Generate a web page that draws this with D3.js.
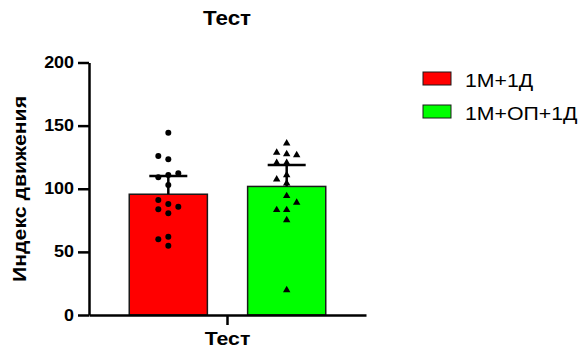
<!DOCTYPE html>
<html>
<head>
<meta charset="utf-8">
<script src="https://cdn.jsdelivr.net/npm/d3@7"></script>
<style>
  body { margin: 0; background: #fff; }
  svg { display: block; font-family: "Liberation Sans", Arial, sans-serif; }
</style>
</head>
<body>
<svg width="581" height="351"></svg>
<script>
// data
var groups = ["Тест"];
var series = ["1М+1Д", "1М+ОП+1Д"];
var colors = ["#ff0000", "#00ff00"];
var redValues = [144.4, 125.9, 123.3, 109.1, 110.9, 112.2, 103, 91.1, 87.9, 85.8, 83.7, 80.6, 62, 60, 54.9];
var greenValues = [136, 126.7, 127.5, 128.6, 120.6, 120.6, 110.9, 107.5, 104.3, 94.3, 89, 83.2, 83.2, 75.2, 19.8];
var errUp = [14.5, 17];
var yTicks = [0, 50, 100, 150, 200];

var svg = d3.select("svg"),
    S = 1.12; // text in the picture is a bit wider than Arial

var y = d3.scaleLinear().domain([0, 200]).range([315, 62.5]);
var x0 = d3.scaleBand().domain(groups).range([89, 366]);
var x1 = d3.scaleBand().domain(series).range([0, x0.bandwidth()]).padding(0.34);

var allValues = [redValues, greenValues];
var bars = series.map(function(s, i) {
  return { name: s, color: colors[i], values: allValues[i],
           mean: d3.mean(allValues[i]), err: errUp[i] };
});

// bars
var g = svg.append("g").attr("transform", "translate(" + x0(groups[0]) + ",0)");

g.selectAll("rect.bar")
  .data(bars)
  .enter().append("rect")
    .attr("class", "bar")
    .attr("x", function(d) { return x1(d.name); })
    .attr("y", function(d) { return y(d.mean); })
    .attr("width", x1.bandwidth())
    .attr("height", function(d) { return y(0) - y(d.mean); })
    .style("fill", function(d) { return d.color; })
    .style("stroke", "#1a1a1a")
    .style("stroke-width", "1.5px");

// error bars (upper only)
var capW = 38;
bars.forEach(function(d) {
  var cx = x1(d.name) + x1.bandwidth() / 2;
  g.append("line")
    .attr("x1", cx).attr("x2", cx)
    .attr("y1", y(d.mean)).attr("y2", y(d.mean + d.err))
    .style("stroke", "#000").style("stroke-width", "2.5px");
  g.append("line")
    .attr("x1", cx - capW / 2).attr("x2", cx + capW / 2)
    .attr("y1", y(d.mean + d.err)).attr("y2", y(d.mean + d.err))
    .style("stroke", "#000").style("stroke-width", "2.5px");
});

// simple dodge so the points sit in columns
function dodge(values) {
  var placed = [], step = 10, gap = 8;
  var order = values.slice().sort(d3.ascending);
  order.forEach(function(v) {
    var py = y(v);
    var cands = [0, -1, 1, -2, 2];
    for (var k = 0; k < cands.length; k++) {
      var c = cands[k];
      var clash = placed.some(function(p) { return p.col == c && Math.abs(p.py - py) < gap; });
      if (!clash) { placed.push({ v: v, py: py, col: c, dx: c * step }); break; }
    }
  });
  return placed;
}

bars.forEach(function(d, i) {
  var cx = x1(d.name) + x1.bandwidth() / 2;
  var pts = dodge(d.values);
  var sym = d3.symbol().type(i == 0 ? d3.symbolCircle : d3.symbolTriangle).size(i == 0 ? 28 : 24);
  g.append("g").selectAll("path")
    .data(pts)
    .enter().append("path")
      .attr("d", sym)
      .attr("transform", function(p) { return "translate(" + (cx + p.dx) + "," + p.py + ")"; })
      .style("fill", "#000");
});

// axes
var yAxis = svg.append("g")
    .attr("transform", "translate(89,0)")
    .call(d3.axisLeft(y).tickValues(yTicks).tickSize(11).tickSizeOuter(0).tickPadding(4));
yAxis.selectAll("text")
    .attr("x", -15 / S)
    .attr("transform", "scale(" + S + ",1)")
    .style("font-size", "16px").style("font-weight", "bold").style("fill", "#000");

var xAxis = svg.append("g")
    .attr("transform", "translate(0,315)")
    .call(d3.axisBottom(x0).tickSize(10).tickSizeOuter(0).tickPadding(7));
xAxis.selectAll("text")
    .attr("transform", "scale(" + S + ",1)")
    .style("font-size", "19px").style("font-weight", "bold").style("fill", "#000");

svg.selectAll(".domain, .tick line")
    .style("stroke", "#000").style("stroke-width", "2.5px");

// titles
svg.append("text")
    .attr("transform", "translate(227,24.5) scale(" + S + ",1)")
    .attr("text-anchor", "middle")
    .style("font-size", "20px").style("font-weight", "bold")
    .text("Тест");

svg.append("text")
    .attr("transform", "translate(26,189) rotate(-90) scale(" + S + ",1)")
    .attr("text-anchor", "middle")
    .style("font-size", "19px").style("font-weight", "bold")
    .text("Индекс движения");

// legend
var legend = svg.append("g").selectAll("g")
    .data(bars)
    .enter().append("g")
    .attr("transform", function(d, i) { return "translate(423," + (72 + i * 33) + ")"; });

legend.append("rect")
    .attr("width", 28).attr("height", 13)
    .style("fill", function(d) { return d.color; })
    .style("stroke", "#1a1a1a").style("stroke-width", "1px");

legend.append("text")
    .attr("transform", "translate(42,15) scale(" + S + ",1)")
    .style("font-size", "19px")
    .text(function(d) { return d.name; });
</script>
</body>
</html>
